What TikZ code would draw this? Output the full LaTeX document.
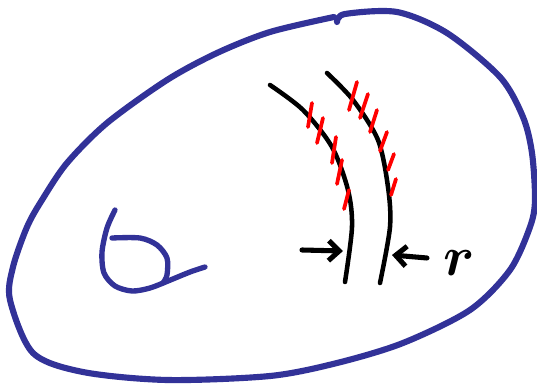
\documentclass[tikz,border=0pt]{standalone}
\usepackage{bm}
\usetikzlibrary{arrows.meta}
\definecolor{penblue}{RGB}{50,50,152}
\definecolor{penred}{RGB}{255,0,0}

\begin{document}
\begin{tikzpicture}[x=0.75pt,y=-0.75pt,line cap=round,line join=round,
    outline/.style={draw=penblue,line width=4.6pt},
    strand/.style={draw=black,line width=3.4pt},
    hatch/.style={draw=penred,line width=2.8pt},
    pointer/.style={draw=black,line width=3.8pt,-{Straight Barb[length=8pt,width=15pt]}}]
    \useasboundingbox (0,0) rectangle (537,385);
    % outer boundary, with the small gap at the top
    \draw[outline] plot[smooth] coordinates {(334,17) (270,32) (217,53) (167,80)
        (107,123) (67,163) (42,200) (27,227) (13,267) (10,300) (33,353) (83,372)
        (167,380) (270,376) (337,363) (403,343) (470,310) (510,270) (530,227)
        (535,200) (532,153) (523,117) (500,77) (447,33) (397,12) (345,14) (337,22)};
    % small loop
    \draw[outline,line width=4pt] plot[smooth] coordinates {(115,210) (107,228)
        (102,252) (104,273) (115,286) (132,291) (150,288) (168,281) (190,272) (205,267)};
    \draw[outline,line width=4pt] plot[smooth] coordinates {(112,238) (140,238)
        (157,245) (167,258) (167,275) (163,283)};
    % the two strands
    \draw[strand] plot[smooth] coordinates {(270,85) (303,110) (332,147) (348,190)
        (352,227) (345,282)};
    \draw[strand] plot[smooth] coordinates {(327,73) (353,100) (378,140) (388,187)
        (390,227) (380,283)};
    % hatching
    \foreach \xa/\ya/\xb/\yb in {312/103/308/127, 323/118/317/143, 336/137/332/163,
        342/160/337/184, 349/190/344/209, 357/82/349/110, 368/94/360/118,
        377/110/370/132, 387/132/380/151, 394/154/388/170, 396/179/391/195}
        \draw[hatch] (\xa,\ya) -- (\xb,\yb);
    % width markers
    \coordinate (lefttail) at (302,250);
    \coordinate (lefttip) at (343,251);
    \coordinate (righttail) at (427,258);
    \coordinate (righttip) at (392,255);
    \draw[pointer] (lefttail) -- (lefttip);
    \draw[pointer] (righttail) -- (righttip);
    \node[inner sep=0pt,scale=4.2] (rlabel) at (459,263) {$\bm{r}$};
\end{tikzpicture}
\end{document}
